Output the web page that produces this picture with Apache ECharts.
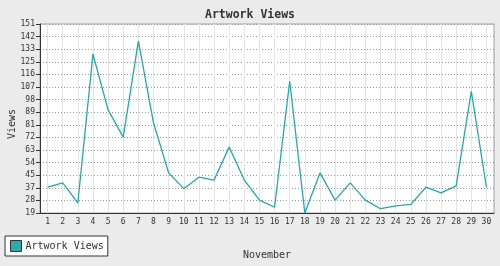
<!DOCTYPE html>
<html>
<head>
<meta charset="utf-8">
<script src="https://cdn.jsdelivr.net/npm/echarts@6/dist/echarts.min.js"></script>
<style>
html,body{margin:0;padding:0;background:#ebebeb;}
#chart{width:500px;height:266px;}
</style>
</head>
<body>
<div id="chart"></div>
<script>
var days = ['1','2','3','4','5','6','7','8','9','10','11','12','13','14','15','16','17','18','19','20','21','22','23','24','25','26','27','28','29','30'];
var views = [37,40,26,130,91,72,139,82,47,36,44,42,65,42,28,23,111,19,47,28,40,28,22,24,25,37,33,38,104,37];
var yMin = 19, yMax = 151, yStep = 8.8;
var seriesName = 'Artwork Views';
var titleText = 'Artwork Views';
var xName = 'November';
var yName = 'Views';

var mono = '"DejaVu Sans Mono", "Liberation Mono", monospace';
var chart = echarts.init(document.getElementById('chart'), null, {renderer:'canvas'});
chart.setOption({
  backgroundColor: '#ebebeb',
  animation: false,
  title: {
    text: titleText, left: 'center', top: 4,
    textStyle: {fontFamily: mono, fontSize: 11.5, fontWeight: 'bold', color: '#333'}
  },
  grid: {
    left: 40, right: 6, top: 24, bottom: 53,
    show: true, backgroundColor: '#fff', borderColor: '#a0a0a0', borderWidth: 1
  },
  legend: {
    left: 5, top: 236,
    data: [seriesName],
    icon: 'rect',
    itemWidth: 11, itemHeight: 11, itemGap: 4,
    padding: [4, 4, 4, 5],
    borderColor: '#333', borderWidth: 1, backgroundColor: '#fff', borderRadius: 0,
    itemStyle: {borderColor: '#333', borderWidth: 1},
    textStyle: {fontFamily: mono, fontSize: 10, color: '#333', padding: [0,0,0,-1]}
  },
  xAxis: {
    type: 'category', data: days, boundaryGap: true,
    name: xName, nameLocation: 'middle', nameGap: 37,
    nameTextStyle: {fontFamily: mono, fontSize: 10, color: '#333'},
    axisLine: {lineStyle: {color: '#333', width: 1}},
    axisTick: {alignWithLabel: true, length: 3, lineStyle: {color: '#333'}},
    axisLabel: {fontFamily: mono, fontSize: 8, color: '#333', margin: 5, interval: 0},
    splitLine: {show: true, alignWithLabel: true, interval: 0, lineStyle: {color: '#e4e4e4', width: 1}}
  },
  yAxis: {
    type: 'value', min: yMin, max: yMax, interval: yStep,
    axisLine: {show: true, lineStyle: {color: '#333', width: 1}},
    axisTick: {show: true, length: 4, lineStyle: {color: '#333'}},
    axisLabel: {fontFamily: mono, fontSize: 8, color: '#333', margin: 5,
      formatter: function(v){ return String(Math.round(v)); }},
    splitLine: {show: true, lineStyle: {color: '#999', type: [1, 2], width: 1}}
  },
  graphic: [{
    type: 'text', rotation: Math.PI/2,
    style: {text: yName, fontFamily: mono, fontSize: 10, fill: '#333', align: 'center', verticalAlign: 'middle'},
    x: 12, y: 124
  }],
  series: [{
    name: seriesName, type: 'line', data: views,
    showSymbol: false, symbol: 'none',
    lineStyle: {color: '#22aaaa', width: 1.3},
    itemStyle: {color: '#2aabab'}
  }]
});
</script>
</body>
</html>
